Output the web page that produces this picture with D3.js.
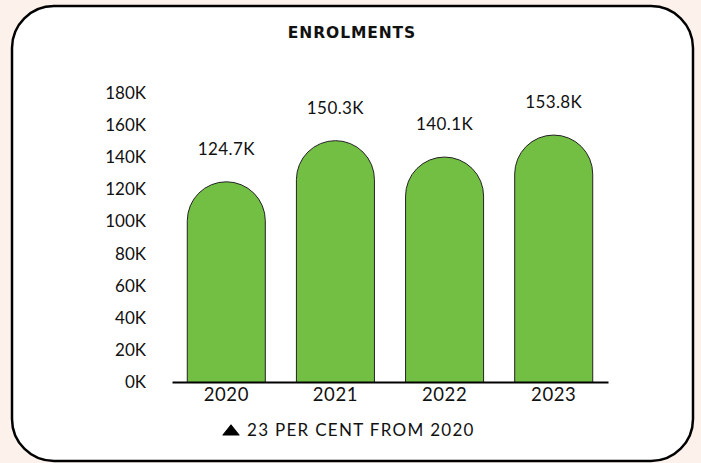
<!DOCTYPE html>
<html>
<head>
<meta charset="utf-8">
<script src="https://cdn.jsdelivr.net/npm/d3@7"></script>
<style>
  html, body { margin: 0; padding: 0; background: #fcf2eb; }
  svg { display: block; }
  text { font-family: Lato, "Open Sans", sans-serif; fill: #111; }
</style>
</head>
<body>
<svg id="chart" width="701" height="463"></svg>
<script>
// Enrolments by year
const years = ["2020", "2021", "2022", "2023"];
const enrolments = [124.7, 150.3, 140.1, 153.8]; // thousands
const yTicks = [0, 20, 40, 60, 80, 100, 120, 140, 160, 180];
const chartTitle = "ENROLMENTS";
const footnote = "23 PER CENT FROM 2020";

const svg = d3.select("#chart");

// white card with rounded border
svg.append("rect")
  .attr("x", 12).attr("y", 6)
  .attr("width", 681).attr("height", 455)
  .attr("rx", 42).attr("ry", 42)
  .attr("fill", "#fff")
  .attr("stroke", "#000")
  .attr("stroke-width", 2.5);

svg.append("text")
  .attr("x", 352).attr("y", 38)
  .attr("text-anchor", "middle")
  .style("font-family", "'DejaVu Sans', sans-serif")
  .style("font-size", "15.5px")
  .style("font-weight", "bold")
  .style("letter-spacing", "0.9px")
  .text(chartTitle);

const x = d3.scaleBand().domain(years).range([172, 608]).paddingInner(0.285).paddingOuter(0.14);
const y = d3.scaleLinear().domain([0, 180]).range([382, 93]);

// y tick labels (no axis line)
svg.append("g").selectAll("text")
  .data(yTicks).join("text")
  .attr("x", 146)
  .attr("y", d => y(d))
  .attr("dy", "0.35em")
  .attr("text-anchor", "end")
  .style("font-size", "17px")
  .text(d => d + "K");

// bars with semicircular tops
const bw = x.bandwidth();
const r = bw / 2;
svg.append("g").selectAll("path")
  .data(years).join("path")
  .attr("d", (d, i) => {
    const x0 = x(d), top = y(enrolments[i]), base = y(0);
    const p = d3.path();
    p.moveTo(x0, base);
    p.lineTo(x0, top + r);
    p.arc(x0 + r, top + r, r, Math.PI, 0);
    p.lineTo(x0 + bw, base);
    return p.toString();
  })
  .attr("fill", "#72bf44")
  .attr("stroke", "#222")
  .attr("stroke-width", 1);

// value labels
svg.append("g").selectAll("text")
  .data(years).join("text")
  .attr("x", d => x(d) + r)
  .attr("y", (d, i) => y(enrolments[i]) - 27)
  .attr("text-anchor", "middle")
  .style("font-size", "17px")
  .style("letter-spacing", "0.4px")
  .text((d, i) => enrolments[i].toFixed(1) + "K");

// x axis
const xAxis = svg.append("g")
  .attr("transform", `translate(0,${y(0)})`)
  .call(d3.axisBottom(x).tickSize(0).tickPadding(6));
xAxis.select(".domain").attr("stroke", "#000").attr("stroke-width", 2);
xAxis.selectAll("text")
  .style("font-size", "18.5px")
  .style("font-family", "Lato, sans-serif")
  .style("letter-spacing", "0.6px")
  .attr("fill", "#111");

// footnote: up-triangle marker and text
const tri = { cx: 231, base: 435, w: 16, h: 10 };
svg.append("path")
  .attr("d", `M${tri.cx - tri.w / 2},${tri.base} L${tri.cx},${tri.base - tri.h} L${tri.cx + tri.w / 2},${tri.base} Z`)
  .attr("fill", "#000")
  .attr("stroke", "#000")
  .attr("stroke-width", 1.2)
  .attr("stroke-linejoin", "round");

svg.append("text")
  .attr("x", 247).attr("y", 436)
  .attr("text-anchor", "start")
  .style("font-size", "17px")
  .style("letter-spacing", "1.3px")
  .text(footnote);
</script>
</body>
</html>
